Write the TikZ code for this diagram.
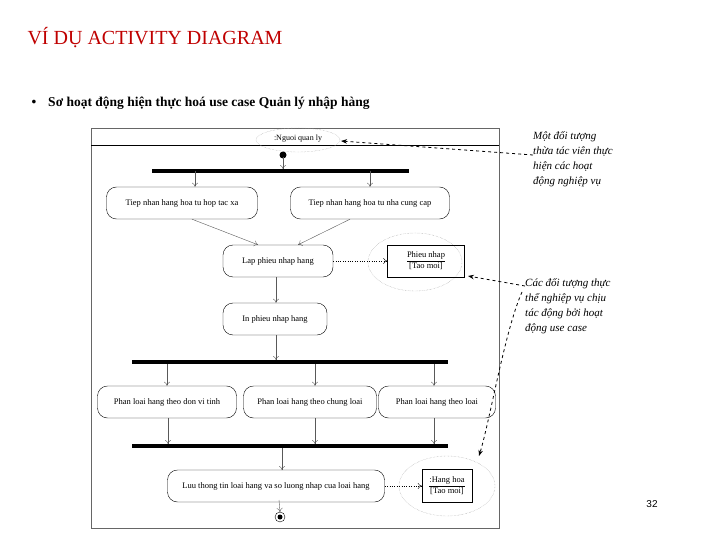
\documentclass[tikz,border=0pt]{standalone}
\usepackage{fontspec}
\setmainfont{Liberation Serif}
\newfontfamily\sansf{Liberation Sans}
\usetikzlibrary{arrows.meta}
\begin{document}
\begin{tikzpicture}[x=1pt,y=-1pt,
  act/.style={draw,rounded corners=10pt,minimum height=32pt,font=\fontsize{8.5}{9}\selectfont,inner sep=2pt},
  obj/.style={draw,font=\fontsize{8.5}{11}\selectfont,align=center,inner sep=2pt},
  oval/.style={draw=gray!80,densely dotted},
  bar/.style={line width=4pt},
  flow/.style={-{To[length=4pt,width=6pt]},gray!70!black},
  dep/.style={dotted,-{To[length=4pt,width=6pt]}},
  note/.style={dashed,thick,-{Stealth[length=6pt]}},
  ann/.style={font=\fontsize{11}{15}\selectfont\itshape,align=left,anchor=north west,inner sep=0}]
\useasboundingbox (0,0) rectangle (720,540);
\node[anchor=west,text=red!75!black,font=\fontsize{20}{22}\selectfont] (title) at (24,38) {VÍ DỤ ACTIVITY DIAGRAM};
\node[anchor=west,font=\fontsize{13.5}{15}\selectfont\bfseries] (sub) at (28,103) {•\hspace{12pt}Sơ hoạt động hiện thực hoá use case Quản lý nhập hàng};
% frame
\draw[gray!80!black] (91,128) rectangle (499,528);
\draw (91,145) -- (499,145);
\draw[oval] (298,140) ellipse [x radius=42,y radius=12];
\node[font=\fontsize{8}{8}\selectfont] (actor) at (298,139) {:Nguoi quan ly};
\fill (283,155) circle (3.5);
\coordinate (init) at (283,157);
% bars
\draw[bar] (152,171) -- (409,171);
\node[act,minimum width=151pt] (a1) at (182,203) {Tiep nhan hang hoa tu hop tac xa};
\node[act,minimum width=159pt] (a2) at (370,203) {Tiep nhan hang hoa tu nha cung cap};
\node[act,minimum width=110pt] (a3) at (278,261) {Lap phieu nhap hang};
\node[act,minimum width=104pt] (a4) at (275,319) {In phieu nhap hang};
\draw[oval] (415,262) ellipse [x radius=47,y radius=29];
\node[obj,minimum width=77pt,minimum height=32pt] (o1) at (426,261) {\underline{Phieu nhap}\\{}[Tao moi]};
\draw[bar] (132,362) -- (448,362);
\node[act,minimum width=139pt] (p1) at (167,402) {Phan loai hang theo don vi tinh};
\node[act,minimum width=133pt] (p2) at (310,402) {Phan loai hang theo chung loai};
\node[act,minimum width=117pt] (p3) at (437,402) {Phan loai hang theo loai};
\draw[bar] (132,446) -- (448,446);
\node[act,minimum width=217pt] (a5) at (276,486) {Luu thong tin loai hang va so luong nhap cua loai hang};
\draw[oval] (447,486) ellipse [x radius=48,y radius=30];
\node[obj,minimum width=50pt,minimum height=33pt] (o2) at (447,486) {\underline{:Hang hoa}\\{}[Tao moi]};
\draw (280,517) circle (5); \fill (280,517) circle (2.5);
\coordinate (fin) at (280,512);
% flows
\draw[flow] (init) -- (283,169);
\draw[flow] (195,171) -- (a1.north -| 195,0);
\draw[flow] (370,171) -- (a2.north -| 370,0);
\draw[flow] ([xshift=10pt]a1.south) -- ([xshift=-20pt]a3.north);
\draw[flow] ([xshift=-20pt]a2.south) -- ([xshift=20pt]a3.north);
\draw[flow] (a3.south -| 276,0) -- (a4.north -| 276,0);
\draw[flow] (a4.south -| 276,0) -- (276,360);
\draw[flow] (167,364) -- (p1.north -| 167,0);
\draw[flow] (315,364) -- (p2.north -| 315,0);
\draw[flow] (434,364) -- (p3.north -| 434,0);
\draw[flow] (p1.south -| 168,0) -- (168,444);
\draw[flow] (p2.south -| 315,0) -- (315,444);
\draw[flow] (p3.south -| 434,0) -- (434,444);
\draw[flow] (282,448) -- (282,470);
\draw[flow] (279,500) -- (fin);
\draw[dep] (a3.east) -- (o1.west);
\draw[dep] (a5.east) -- (o2.west);
% notes
\node[ann] (n1) at (533,131) {Một đối tượng\\thừa tác viên thực\\hiện các hoạt\\động nghiệp vụ};
\node[ann] (n2) at (525,278) {Các đối tượng thực\\thể nghiệp vụ chịu\\tác động bởi hoạt\\động use case};
\draw[note] (n1.west |- 0,155) -- (341,141);
\draw[note] ([yshift=-8pt]n2.north west) -- (468,276);
\draw[note] ([xshift=-3pt,yshift=-14pt]n2.north west) .. controls (505,330) and (490,420) .. (479,456);
\node[font=\sansf\fontsize{10}{12}\selectfont] (pg) at (652,504) {32};
\end{tikzpicture}
\end{document}
